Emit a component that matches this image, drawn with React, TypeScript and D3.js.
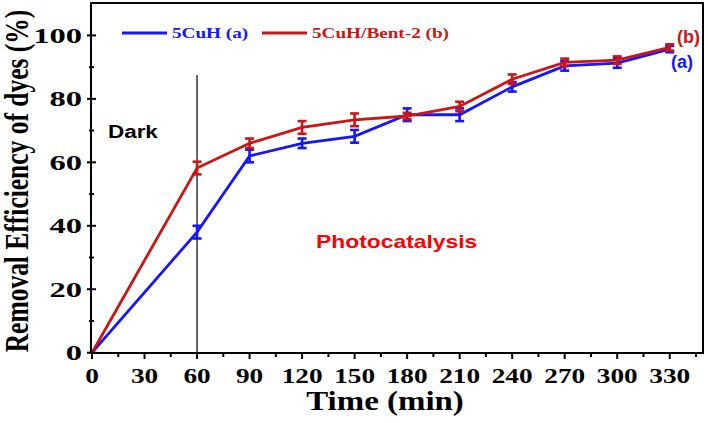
import React from "react";
import * as d3 from "d3";

const times = [0, 60, 90, 120, 150, 180, 210, 240, 270, 300, 330];
const cuH = [0, 38, 62, 66, 68.2, 75, 75, 83.8, 90.4, 91.3, 95.7];
const cuHErr = [0, 2, 2, 1.5, 2, 2, 2, 1.5, 1.5, 1.5, 1];
const bent = [0, 58.2, 66, 71, 73.4, 74.6, 77.6, 86.2, 91.5, 92.2, 96.2];
const bentErr = [0, 2, 1.5, 2, 2, 1, 1.5, 1.5, 1.2, 1.2, 1];
const xTicks = [0, 30, 60, 90, 120, 150, 180, 210, 240, 270, 300, 330];
const xMinor = [15, 45, 75, 105, 135, 165, 195, 225, 255, 285, 315, 345];
const yTicks = [0, 20, 40, 60, 80, 100];
const yMinor = [10, 30, 50, 70, 90];
const seriesNames = ["5CuH (a)", "5CuH/Bent-2 (b)"];
const darkLineTop = 87.5;

const BLUE = "#1515ff";
const RED = "#cc1515";
const SERIF = "'Liberation Serif','Times New Roman',serif";
const SANS = "'Liberation Sans',Arial,sans-serif";

export default function App() {
  const x = d3.scaleLinear().domain([0, 349]).range([92, 703]);
  const y = d3.scaleLinear().domain([0, 110]).range([352.7, 3.7]);
  const line = d3
    .line<[number, number]>()
    .x((d) => x(d[0]))
    .y((d) => y(d[1]));

  const series = [
    { vals: cuH, err: cuHErr, color: BLUE },
    { vals: bent, err: bentErr, color: RED },
  ];

  return (
    <svg
      width={708}
      height={423}
      style={{ position: "absolute", left: 0, top: 0, background: "#fff" }}
    >
      <rect x={0} y={0} width={708} height={423} fill="#fff" />
      <line
        x1={x(60)}
        x2={x(60)}
        y1={y(0)}
        y2={y(darkLineTop)}
        stroke="#000"
        strokeWidth={1.2}
      />
      {series.map((s, i) => (
        <g key={i}>
          <path
            d={line(times.map((t, j) => [t, s.vals[j]]) as [number, number][]) || ""}
            fill="none"
            stroke={s.color}
            strokeWidth={2.8}
          />
          {times.map((t, j) =>
            s.err[j] > 0 ? (
              <g key={j} stroke={s.color} strokeWidth={2.6}>
                <line x1={x(t)} x2={x(t)} y1={y(s.vals[j] - s.err[j])} y2={y(s.vals[j] + s.err[j])} />
                <line x1={x(t) - 4.5} x2={x(t) + 4.5} y1={y(s.vals[j] - s.err[j])} y2={y(s.vals[j] - s.err[j])} />
                <line x1={x(t) - 4.5} x2={x(t) + 4.5} y1={y(s.vals[j] + s.err[j])} y2={y(s.vals[j] + s.err[j])} />
              </g>
            ) : null
          )}
        </g>
      ))}
      <rect x={91} y={3} width={612} height={350} fill="none" stroke="#000" strokeWidth={2} />
      {xTicks.map((t) => (
        <g key={"xt" + t}>
          <line x1={x(t)} x2={x(t)} y1={353} y2={359} stroke="#000" strokeWidth={2} />
          <text
            transform={`translate(${x(t)},383) scale(1.3,1)`}
            textAnchor="middle"
            fontFamily={SERIF}
            fontWeight="bold"
            fontSize={21}
          >
            {t}
          </text>
        </g>
      ))}
      {xMinor.map((t) => (
        <line key={"xm" + t} x1={x(t)} x2={x(t)} y1={353} y2={357} stroke="#000" strokeWidth={2} />
      ))}
      {yTicks.map((v) => (
        <g key={"yt" + v}>
          <line x1={87} x2={96} y1={y(v)} y2={y(v)} stroke="#000" strokeWidth={2} />
          <text
            transform={`translate(82,${y(v) + 7.5}) scale(1.55,1)`}
            textAnchor="end"
            fontFamily={SERIF}
            fontWeight="bold"
            fontSize={21}
          >
            {v}
          </text>
        </g>
      ))}
      {yMinor.map((v) => (
        <line key={"ym" + v} x1={89} x2={94} y1={y(v)} y2={y(v)} stroke="#000" strokeWidth={2} />
      ))}
      <text
        transform="translate(385,410) scale(1.22,1)"
        textAnchor="middle"
        fontFamily={SERIF}
        fontWeight="bold"
        fontSize={27}
      >
        Time (min)
      </text>
      <text
        transform="translate(28,181) scale(1.3,1) rotate(-90)"
        textAnchor="middle"
        fontFamily={SERIF}
        fontWeight="bold"
        fontSize={25.5}
      >
        Removal Efficiency of dyes (%)
      </text>
      <line x1={122} x2={167} y1={33} y2={33} stroke={BLUE} strokeWidth={2.8} />
      <text
        transform="translate(172,38) scale(1.28,1)"
        fontFamily={SERIF}
        fontWeight="bold"
        fontSize={15}
        fill={BLUE}
      >
        {seriesNames[0]}
      </text>
      <line x1={262} x2={307} y1={33} y2={33} stroke={RED} strokeWidth={2.8} />
      <text
        transform="translate(312,38) scale(1.28,1)"
        fontFamily={SERIF}
        fontWeight="bold"
        fontSize={15}
        fill={RED}
      >
        {seriesNames[1]}
      </text>
      <text
        transform="translate(108,138) scale(1.18,1)"
        fontFamily={SANS}
        fontWeight="bold"
        fontSize={19}
        fill="#000"
      >
        Dark
      </text>
      <text
        transform="translate(316,248) scale(1.27,1)"
        fontFamily={SANS}
        fontWeight="bold"
        fontSize={18}
        fill="#ff0000"
      >
        Photocatalysis
      </text>
      <text x={677} y={43} fontFamily={SANS} fontWeight="bold" fontSize={18} fill={RED}>
        (b)
      </text>
      <text x={671} y={68} fontFamily={SANS} fontWeight="bold" fontSize={18} fill={BLUE}>
        (a)
      </text>
    </svg>
  );
}
